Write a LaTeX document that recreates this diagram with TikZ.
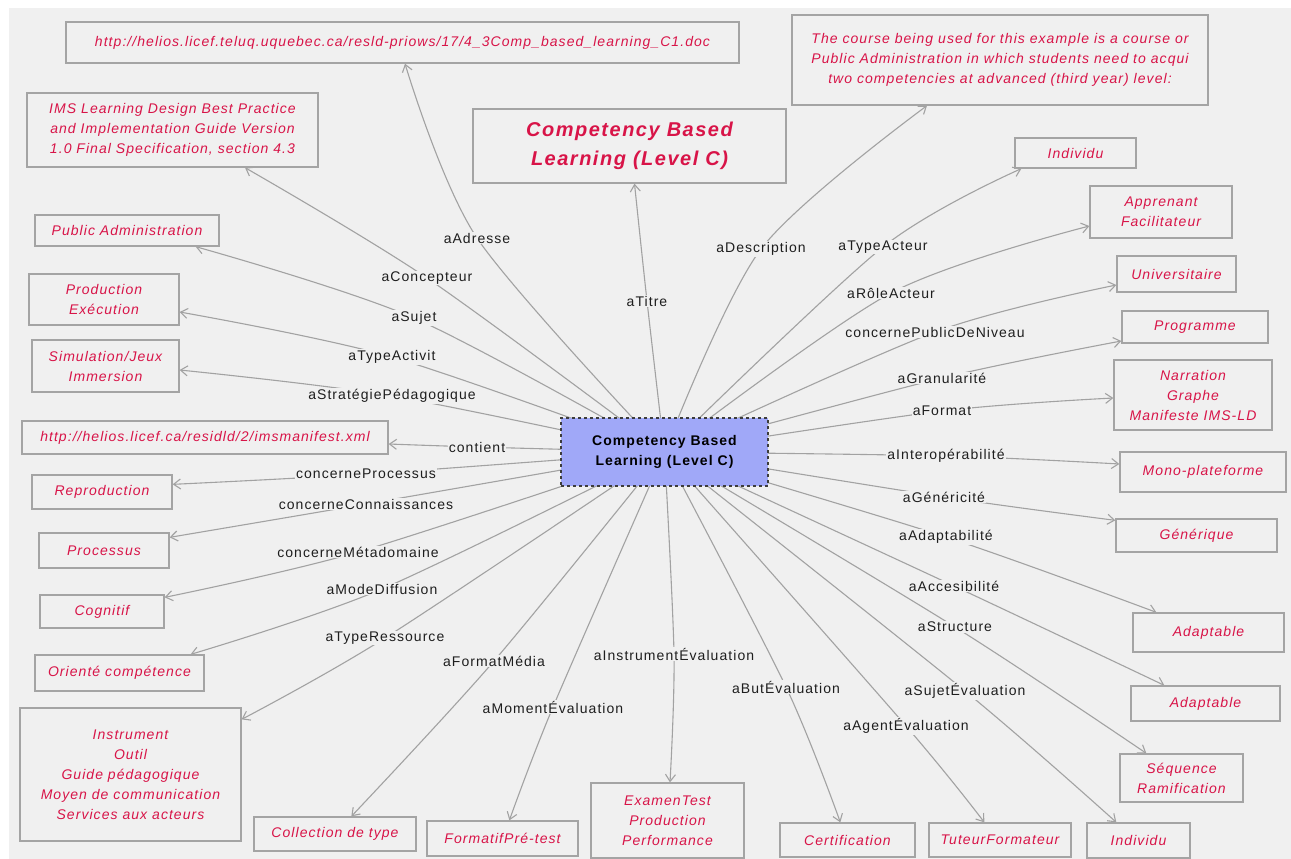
\documentclass[tikz,border=0pt]{standalone}
\usepackage{fontspec}
\usetikzlibrary{arrows.meta}
\newfontfamily\diagfont[LetterSpace=7.5]{Liberation Sans}
\definecolor{bg}{HTML}{F0F0F0}
\definecolor{boxgray}{HTML}{A4A4A4}
\definecolor{edgegray}{HTML}{A2A2A2}
\definecolor{valred}{HTML}{D81448}
\definecolor{lblink}{HTML}{1E1E1E}
\definecolor{hubfill}{HTML}{A0A8F8}
\definecolor{hubline}{HTML}{3C3C3C}
\pgfdeclarelayer{back}
\pgfdeclarelayer{edges}
\pgfsetlayers{back,edges,main}
\tikzset{
  val/.style={draw=boxgray, line width=1.3pt, fill=bg, inner sep=0pt, align=center,
    text=valred, font={\diagfont\itshape\fontsize{14}{20}\selectfont}},
  lbl/.style={fill=bg, inner sep=1pt, text=lblink, font={\diagfont\fontsize{14}{16}\selectfont}},
  hub/.style={draw=hubline, dashed, line width=1.1pt, fill=hubfill, inner sep=0pt, align=center,
    text=black, font={\diagfont\bfseries\fontsize{14}{20}\selectfont}},
  rel/.style={draw=edgegray, line width=1.1pt, -{Straight Barb[length=7pt,width=10pt]}},
}
\begin{document}
\begin{tikzpicture}[x=1pt, y=-1pt]
\useasboundingbox (0,0) rectangle (1291,859);
\begin{pgfonlayer}{back}
  \fill[white] (0,0) rectangle (1291,859);
  \fill[bg] (9,8) rectangle (1291,859);
\end{pgfonlayer}

% central concept
\node[hub, minimum width=207pt, minimum height=68pt] (c) at (664.5,452) {Competency Based\\Learning (Level C)};

% values
\node[val, minimum width=673pt, minimum height=41pt] (url1) at (402.5,42.5) {http://helios.licef.teluq.uquebec.ca/resld-priows/17/4\_3Comp\_based\_learning\_C1.doc};
\node[val, minimum width=291pt, minimum height=74pt] (ims) at (172.5,130) {IMS Learning Design Best Practice\\and Implementation Guide Version\\1.0 Final Specification, section 4.3};
\node[val, minimum width=313pt, minimum height=74pt, font={\diagfont\bfseries\itshape\fontsize{20}{29}\selectfont}] (title) at (629.5,146) {Competency Based\\Learning (Level C)};
\node[val, minimum width=416pt, minimum height=90pt] (desc) at (1000,60) {The course being used for this example is a course or\\Public Administration in which students need to acqui\\two competencies at advanced (third year) level:};
\node[val, minimum width=121pt, minimum height=30pt] (ind1) at (1075.5,153) {Individu};
\node[val, minimum width=142pt, minimum height=52pt] (app) at (1161,212) {Apprenant\\Facilitateur};
\node[val, minimum width=119pt, minimum height=36pt] (univ) at (1176.5,274) {Universitaire};
\node[val, minimum width=146pt, minimum height=32pt] (prog) at (1195,327) {Programme};
\node[val, minimum width=158pt, minimum height=70pt] (narr) at (1193,395) {Narration\\Graphe\\Manifeste IMS-LD};
\node[val, minimum width=166pt, minimum height=40pt] (mono) at (1203,472) {Mono-plateforme};
\node[val, minimum width=161pt, minimum height=33pt] (gen) at (1196.5,535.5) {Générique};
\node[val, minimum width=151pt, minimum height=39pt] (ad1) at (1208.5,632.5) {Adaptable};
\node[val, minimum width=149pt, minimum height=35pt] (ad2) at (1205.5,703.5) {Adaptable};
\node[val, minimum width=123pt, minimum height=48pt] (seq) at (1181.5,778) {Séquence\\Ramification};
\node[val, minimum width=103pt, minimum height=35pt] (ind2) at (1138.5,840.5) {Individu};
\node[val, minimum width=142pt, minimum height=34pt] (tut) at (1000,840) {TuteurFormateur};
\node[val, minimum width=135pt, minimum height=34pt] (cert) at (847.5,840) {Certification};
\node[val, minimum width=153pt, minimum height=75pt] (exam) at (667.5,820.5) {ExamenTest\\Production\\Performance};
\node[val, minimum width=151pt, minimum height=35pt] (form) at (502.5,838.5) {FormatifPré-test};
\node[val, minimum width=162pt, minimum height=34pt] (coll) at (335,834) {Collection de type};
\node[val, minimum width=221pt, minimum height=133pt] (instr) at (130.5,774.5) {Instrument\\Outil\\Guide pédagogique\\Moyen de communication\\Services aux acteurs};
\node[val, minimum width=169pt, minimum height=36pt] (orient) at (119.5,673) {Orienté compétence};
\node[val, minimum width=124pt, minimum height=33pt] (cog) at (102,611.5) {Cognitif};
\node[val, minimum width=130pt, minimum height=35pt] (proc) at (104,550.5) {Processus};
\node[val, minimum width=140pt, minimum height=34pt] (repr) at (102,492) {Reproduction};
\node[val, minimum width=366pt, minimum height=33pt] (url2) at (205,437.5) {http://helios.licef.ca/residld/2/imsmanifest.xml};
\node[val, minimum width=147pt, minimum height=52pt] (sim) at (105.5,366) {Simulation/Jeux\\Immersion};
\node[val, minimum width=150pt, minimum height=51pt] (prodn) at (104,299.5) {Production\\Exécution};
\node[val, minimum width=184pt, minimum height=31pt] (pub) at (127,230.5) {Public Administration};

% relation labels
\node[lbl] (l1) at (477,238) {aAdresse};
\node[lbl] (l2) at (427,278) {aConcepteur};
\node[lbl] (l3) at (414,318) {aSujet};
\node[lbl] (l4) at (392,357) {aTypeActivit};
\node[lbl] (l5) at (392,396) {aStratégiePédagogique};
\node[lbl] (l6) at (477,447) {contient};
\node[lbl] (l7) at (366,474) {concerneProcessus};
\node[lbl] (l8) at (366,504) {concerneConnaissances};
\node[lbl] (l9) at (358,552) {concerneMétadomaine};
\node[lbl] (l10) at (382,589) {aModeDiffusion};
\node[lbl] (l11) at (385,638) {aTypeRessource};
\node[lbl] (l12) at (494,661) {aFormatMédia};
\node[lbl] (l13) at (553,707) {aMomentÉvaluation};
\node[lbl] (l14) at (674,654) {aInstrumentÉvaluation};
\node[lbl] (l15) at (786,687) {aButÉvaluation};
\node[lbl] (l16) at (906,726) {aAgentÉvaluation};
\node[lbl] (l17) at (965,691) {aSujetÉvaluation};
\node[lbl] (l18) at (955,627) {aStructure};
\node[lbl] (l19) at (954,586) {aAccesibilité};
\node[lbl] (l20) at (946,537) {aAdaptabilité};
\node[lbl] (l21) at (944,497) {aGénéricité};
\node[lbl] (l22) at (946,456) {aInteropérabilité};
\node[lbl] (l23) at (942,411) {aFormat};
\node[lbl] (l24) at (942,378) {aGranularité};
\node[lbl] (l25) at (935,332) {concernePublicDeNiveau};
\node[lbl] (l26) at (891,293) {aRôleActeur};
\node[lbl] (l27) at (883,247) {aTypeActeur};
\node[lbl] (l28) at (761,249) {aDescription};
\node[lbl] (l29) at (647,301) {aTitre};

% relations: from the concept through their label to the value
\begin{pgfonlayer}{edges}
\draw[rel] plot[smooth] coordinates {(c.center) (l1) ([xshift=2.5pt]url1.south)};
\draw[rel] plot[smooth] coordinates {(c.center) (l2) ([xshift=72.5pt]ims.south)};
\draw[rel] plot[smooth] coordinates {(c.center) (l3) ([xshift=-24pt]pub.south east)};
\draw[rel] plot[smooth] coordinates {(c.center) (l4) ([yshift=-12.5pt]prodn.east)};
\draw[rel] plot[smooth] coordinates {(c.center) (l5) ([yshift=-4pt]sim.east)};
\draw[rel] plot[smooth] coordinates {(c.center) (l6) ([yshift=-6.5pt]url2.east)};
\draw[rel] plot[smooth] coordinates {(c.center) (l7) ([yshift=-10pt]repr.north east)};
\draw[rel] plot[smooth] coordinates {(c.center) (l8) ([yshift=-5pt]proc.north east)};
\draw[rel] plot[smooth] coordinates {(c.center) (l9) ([yshift=-3pt]cog.north east)};
\draw[rel] plot[smooth] coordinates {(c.center) (l10) ([xshift=-14pt]orient.north east)};
\draw[rel] plot[smooth] coordinates {(c.center) (l11) ([yshift=-12pt]instr.north east)};
\draw[rel] plot[smooth] coordinates {(c.center) (l12) ([xshift=98pt]coll.north west)};
\draw[rel] plot[smooth] coordinates {(c.center) (l13) ([xshift=83pt]form.north west)};
\draw[rel] plot[smooth] coordinates {(c.center) (l14) ([xshift=2.5pt]exam.north)};
\draw[rel] plot[smooth] coordinates {(c.center) (l15) ([xshift=61pt]cert.north west)};
\draw[rel] plot[smooth] coordinates {(c.center) (l16) ([xshift=56pt]tut.north west)};
\draw[rel] plot[smooth] coordinates {(c.center) (l17) ([xshift=30pt]ind2.north west)};
\draw[rel] plot[smooth] coordinates {(c.center) (l18) ([xshift=27pt]seq.north west)};
\draw[rel] plot[smooth] coordinates {(c.center) (l19) ([xshift=34pt]ad2.north west)};
\draw[rel] plot[smooth] coordinates {(c.center) (l20) ([xshift=24pt]ad1.north west)};
\draw[rel] plot[smooth] coordinates {(c.center) (l21) ([yshift=-2pt]gen.north west)};
\draw[rel] plot[smooth] coordinates {(c.center) (l22) ([yshift=8pt]mono.west)};
\draw[rel] plot[smooth] coordinates {(c.center) (l23) ([yshift=-3pt]narr.west)};
\draw[rel] plot[smooth] coordinates {(c.center) (l24) ([yshift=-14pt]prog.west)};
\draw[rel] plot[smooth] coordinates {(c.center) (l25) ([yshift=-11pt]univ.west)};
\draw[rel] plot[smooth] coordinates {(c.center) (l26) ([yshift=-14pt]app.west)};
\draw[rel] plot[smooth] coordinates {(c.center) (l27) ([xshift=7pt]ind1.south west)};
\draw[rel] plot[smooth] coordinates {(c.center) (l28) ([xshift=-73pt]desc.south)};
\draw[rel] plot[smooth] coordinates {(c.center) (l29) ([xshift=5pt]title.south)};
\end{pgfonlayer}
\end{tikzpicture}
\end{document}
